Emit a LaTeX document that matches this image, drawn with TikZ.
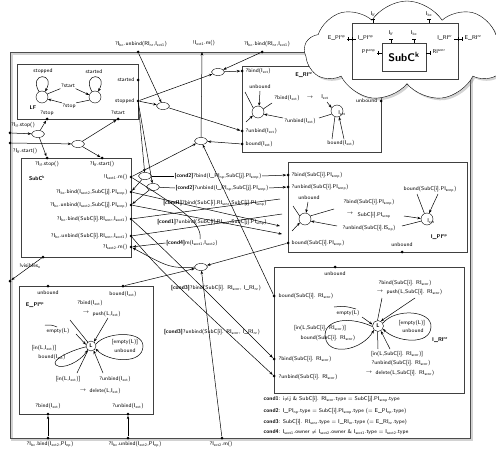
\documentclass[tikz,border=0pt]{standalone}
\usetikzlibrary{arrows.meta,shapes.geometric,shapes.symbols,shadows}
\newcommand\sbs[1]{\textsubscript{#1}}
\newcommand\sps[1]{\textsuperscript{#1}}
\newcommand\xIlf{I\sbs{lf}}
\newcommand\xIbc{I\sbs{bc}}
\newcommand\xIext{I\sbs{ext}}
\newcommand\xIexti{I\sbs{ext1}}
\newcommand\xIextii{I\sbs{ext2}}
\newcommand\xIsi{I\sbs{sext1}}
\newcommand\xIsii{I\sbs{sext2}}
\newcommand\xPIs{PI\sbs{scnp}}
\newcommand\xRIs{RI\sbs{scnr}}
\begin{document}
\begin{tikzpicture}[x=1pt,y=-1pt,
  every node/.style={font=\sffamily\fontsize{5.5}{6}\selectfont,inner sep=0.5pt},
  box/.style={draw=black!75,line width=0.6pt},
  pt/.style={circle,fill=black,inner sep=0,minimum size=3pt},
  ell/.style={ellipse,draw,fill=white,minimum width=13pt,minimum height=7pt,inner sep=0},
  st/.style={circle,draw,minimum size=12pt,inner sep=0},
  con/.style={line width=0.5pt},
  arr/.style={con,-{Stealth[length=3.5pt,width=2.6pt]}},
  bf/.style={font=\sffamily\bfseries\fontsize{5.5}{6}\selectfont}
]
\useasboundingbox (0,0) rectangle (496,452);
% outer frame
\draw[gray!35,line width=1.4pt] (12,54) rectangle (472,440);
\draw[black!70,line width=0.8pt] (10,52) rectangle (470,438);

% ---------- LF box
\draw[box] (17,64) rectangle (138,119);
\node at (43,71) {stopped};
\node at (94,72) {started};
\node[st] (s1) at (42,97) {};
\node[st] (s2) at (95,97) {};
\draw[arr] (s1.120) .. controls (28,72) and (56,72) .. (s1.60);
\draw[arr] (s2.120) .. controls (81,72) and (109,72) .. (s2.60);
\node (lst) at (68,86) {?start};
\draw[con] (s1.30) -- (lst.south west);
\draw[arr] (lst.south east) -- (s2.160);
\node (lsp) at (69,106) {?stop};
\draw[con] (s2.210) -- (lsp.north east);
\draw[arr] (lsp.north west) -- (s1.340);
\node[bf] at (33,108) {LF};
\node[pt] (lfstarted) at (138,80) {}; \node[anchor=east] at (135,80) {started};
\node[pt] (lfstopped) at (138,101) {}; \node[anchor=east] at (135,101) {stopped};
\node[pt] (lfstop) at (47,119) {}; \node at (47,113) {?stop};
\node[pt] (lfstart) at (118,119) {}; \node at (118,113) {?start};

% ---------- top frame ports
\node[pt] (t1) at (138,52) {}; \node at (141,44) {?\xIbc.unbind(RI\sbs{nr},\xIexti)};
\coordinate (t2) at (202,52); \node at (204,43) {!\xIexti.m()};
\node[pt] (t3) at (262,52) {}; \node at (267,44) {?\xIbc.bind(RI\sbs{nr},\xIexti)};

% ---------- E_RI box
\draw[box] (242,66) rectangle (381,152);
\node[pt] (eri1) at (242,71) {}; \node[anchor=west] at (245,71) {?bind(\xIext)};
\node[pt] (eri2) at (242,131) {}; \node[anchor=west] at (245,131) {?unbind(\xIext)};
\node[pt] (eri3) at (242,144) {}; \node[anchor=west] at (245,144) {bound(\xIext)};
\node[pt] (eri4) at (381,101) {}; \node[anchor=east] at (378,101) {unbound};
\node[bf] at (304,75) {E\_RI\sps{nr}};
\node at (260,87) {unbound};
\node[st] (ru) at (258,112) {};
\node[st] (rb) at (337,111) {};
\node at (342,113) {I\sbs{ext}};
\draw[arr] (260,91) -- (ru.80);
\draw[con] (245,92) -- (ru.140);
\draw[arr] (246,122) -- (ru.215);
\node at (287,98) {?bind(\xIext)};
\node at (310,98) {$\to$};
\node at (325,97) {\xIext};
\draw[con] (ru.30) -- (272,103);
\draw[arr] (327,102) -- (rb.150);
\node at (300,121) {?unbind(\xIext)};
\draw[con] (rb.210) -- (319,118);
\draw[arr] (283,118) -- (ru.340);
\node at (341,143) {bound(\xIext)};
\draw[con] (332,139) -- (rb.250);
\draw[arr] (344,139) -- (rb.290);

% ---------- I_PI box
\draw[box] (288,162) rectangle (467,252);
\node[pt] (ipi1) at (288,175) {}; \node[anchor=west] at (291,175) {?bind(SubC[i].\xPIs)};
\node[pt] (ipi2) at (288,187) {}; \node[anchor=west] at (291,187) {?unbind(SubC[i].\xPIs)};
\node[pt] (ipi3) at (288,243) {}; \node[anchor=west] at (291,243) {bound(SubC[i].\xPIs)};
\node[pt] (ipi4) at (402,252) {}; \node at (402,245) {unbound};
\node at (309,198) {unbound};
\node[st] (pu) at (305,219) {};
\draw[arr] (308,202) -- (pu.80);
\draw[con] (293,206) -- (pu.150);
\draw[arr] (292,231) -- (pu.215);
\node at (369,202) {?bind(SubC[i].\xPIs)};
\draw[con] (pu.30) -- (334,209);
\node at (350,214) {$\to$};
\node[anchor=west] at (357,215) {SubC[i].\xPIs};
\node[st] (pb) at (427,219) {};
\node at (431,221) {I\sbs{ext}};
\draw[arr] (404,216) -- (pb.175);
\node at (369,228) {?unbind(SubC[i].IS\sbs{np})};
\draw[con] (pb.200) -- (402,226);
\draw[arr] (337,226) -- (pu.340);
\node at (430,189) {bound(SubC[i].\xPIs)};
\draw[con] (417,194) -- (pb.115);
\draw[arr] (438,194) -- (pb.70);
\node[bf] at (439,237) {I\_PI\sps{np}};

% ---------- I_RI box
\draw[box] (274,267) rectangle (464,393);
\node[pt] (iri0) at (335,267) {}; \node at (335,274) {unbound};
\node[pt] (iri1) at (274,296) {}; \node[anchor=west] at (278,296) {bound(SubC[i]. \xRIs)};
\node[pt] (iri2) at (274,359) {}; \node[anchor=west] at (278,359) {?bind(SubC[i]. \xRIs)};
\node[pt] (iri3) at (274,376) {}; \node[anchor=west] at (278,377) {?unbind(SubC[i]. \xRIs)};
\node at (405,283) {?bind(SubC[i]. \xRIs)};
\node at (380,292) {$\to$};
\node[anchor=west] at (386,292) {push(L,SubC[i]. \xRIs)};
\node[st,minimum size=11pt] (L2) at (378,326) {\bfseries L};
\draw[con] (382,298) -- (L2.95);
\draw[arr] (415,298) -- (L2.60);
\node at (348,313) {empty(L)};
\draw[con] (334,307) .. controls (345,306) .. (356,309);
\draw[arr] (362,317) -- (L2.165);
\node at (320,328) {[in(L,SubC[i]. \xRIs)]};
\node at (328,338) {bound(SubC[i]. \xRIs)};
\draw[arr] (L2.185) .. controls (345,314) and (320,322) .. (326,340) .. controls (331,356) and (362,350) .. (L2.225);
\node at (412,323) {[empty(L)]};
\node at (413,331) {unbound};
\draw[arr] (L2.30) .. controls (395,308) and (432,310) .. (431,327) .. controls (430,346) and (396,342) .. (L2.330);
\node[bf] at (440,340) {I\_RI\sps{nr}};
\node at (397,354) {[in(L,SubC[i]. \xRIs)]};
\node at (401,363) {?unbind(SubC[i]. \xRIs)};
\node at (369,373) {$\to$};
\node[anchor=west] at (375,373) {delete(L,SubC[i]. \xRIs)};
\draw[con] (378,349) -- (L2.265);
\draw[arr] (390,349) -- (L2.300);

% conditions
\node[anchor=west] at (263,399) {\textbf{cond1}: i$\neq$j \& SubC[i]. \xRIs.type = SubC[j].\xPIs.type};
\node[anchor=west] at (263,411) {\textbf{cond2}: I\_PI\sbs{np}.type = SubC[i].\xPIs.type (= E\_PI\sbs{np}.type)};
\node[anchor=west] at (263,422) {\textbf{cond3}: SubC[i]. \xRIs.type = I\_RI\sbs{nr}.type (= E\_RI\sbs{nr}.type)};
\node[anchor=west] at (263,432) {\textbf{cond4}: \xIsi.owner $\neq$ \xIsii.owner \& \xIsi.type = \xIsii.type};

% ---------- E_PI box
\draw[box] (19,286) rectangle (153,414);
\node[pt] (epi1) at (48,286) {}; \node at (48,293) {unbound};
\node[pt] (epi2) at (123,286) {}; \node at (123,294) {bound(\xIext)};
\node[pt] (epi3) at (48,414) {}; \node at (48,406) {?bind(\xIext)};
\node[pt] (epi4) at (128,414) {}; \node at (128,406) {?unbind(\xIext)};
\node[bf] at (35,305) {E\_PI\sps{np}};
\node at (90,303) {?bind(\xIext)};
\node at (86,313) {$\to$};
\node[anchor=west] at (92,314) {push(L,\xIext)};
\node[st,minimum size=10pt] (L1) at (91,346) {\bfseries L};
\draw[con] (70,320) -- (L1.130);
\draw[arr] (108,318) -- (L1.55);
\node at (58,331) {empty(L)};
\draw[con] (45,325) .. controls (52,325) .. (57,327);
\draw[arr] (76,334) -- (L1.165);
\node at (44,348) {[in(L,\xIext)]};
\node at (52,357) {bound(\xIext)};
\draw[arr] (L1.190) .. controls (72,350) and (50,360) .. (56,365) .. controls (62,370) and (80,362) .. (L1.230);
\node at (125,342) {[empty(L)]};
\node at (125,351) {unbound};
\draw[arr] (L1.20) .. controls (105,332) and (143,330) .. (143,346) .. controls (143,365) and (108,362) .. (L1.330);
\node at (68,379) {[in(L,\xIext)]};
\node at (115,379) {?unbind(\xIext)};
\node at (83,391) {$\to$};
\node[anchor=west] at (89,391) {delete(L,\xIext)};
\draw[con] (77,373) -- (L1.235);
\draw[arr] (103,373) -- (L1.300);

% ---------- SubC box
\draw[box] (21,158) rectangle (131,257);
\node[pt] (scstop) at (47,158) {}; \node at (47,164) {?\xIlf.stop()};
\node[pt] (scstart) at (102,158) {}; \node at (102,164) {?\xIlf.start()};
\node[bf] at (37,178) {SubC\sps{k}};
\node[pt] (scm1) at (131,177) {}; \node[anchor=east] at (128,177) {!\xIsi.m()};
\node[pt] (scb1) at (131,192) {}; \node[anchor=east] at (128,192) {?\xIbc.bind(\xIsii,SubC[j].\xPIs)};
\node[pt] (scu1) at (131,205) {}; \node[anchor=east] at (128,205) {?\xIbc.unbind(\xIsii,SubC[j].\xPIs)};
\node[pt] (scb2) at (131,219) {}; \node[anchor=east] at (128,219) {?\xIbc.bind(SubC[i].\xRIs,\xIsi)};
\node[pt] (scu2) at (131,236) {}; \node[anchor=east] at (128,236) {?\xIbc.unbind(SubC[i].\xRIs,\xIsi)};
\node[pt] (scm2) at (131,247) {}; \node[anchor=east] at (128,247) {?\xIsii.m()};
\node[pt] (scvis) at (43,257) {};

% ---------- frame ports left / bottom
\node[pt] (fl1) at (10,133) {}; \node at (23,125) {?\xIlf.stop()};
\node[pt] (fl2) at (10,143) {}; \node at (25,151) {?\xIlf.start()};
\node[pt] (fl3) at (10,281) {}; \node at (30,266) {!visibles\sbs{n}};
\node[pt] (fb1) at (48,438) {}; \node at (50,444) {?\xIbc.bind(\xIextii,PI\sbs{np})};
\node[pt] (fb2) at (128,438) {}; \node at (135,444) {?\xIbc.unbind(\xIextii,PI\sbs{np})};
\node[pt] (fb3) at (222,438) {}; \node at (221,444) {?\xIextii.m()};

% ---------- ellipses
\node[ell] (e1) at (163,106) {};
\node[ell] (e2) at (218,72) {};
\node[ell] (e3) at (201,141) {};
\node[ell] (e4) at (38,134) {};
\node[ell] (e5) at (78,144) {};
\node[ell] (e6) at (145,176) {};
\node[ell] (e7) at (153,187) {};
\node[ell] (e8) at (201,267) {};

% ---------- connectors
\draw[arr] (fl1) -- (e4); \draw[arr] (e4) -- (lfstop); \draw[arr] (e4) -- (scstop);
\draw[arr] (fl2) -- (e5); \draw[arr] (e5) -- (lfstart); \draw[arr] (e5) -- (scstart);
\draw[arr] (t1) -- (e1); \draw[arr] (lfstopped) -- (e1); \draw[arr] (e1) -- (eri2);
\draw[arr] (t3) -- (e2); \draw[arr] (lfstopped) -- (e2); \draw[arr] (e2) -- (eri1);
\draw[arr] (eri3) -- (e3); \draw[arr] (scm1) -- (e3); \draw[arr] (iri1) -- (e3); \draw[arr] (e3) -- (t2);
\draw[arr] (lfstopped) -- (e6); \draw[arr] (lfstopped) -- (e7);
\draw[arr] (e6) -- (scb1); \draw[arr] (e7) -- (scu1);
\node (c2b) at (218,176) {\textbf{[cond2]}?bind(I\_PI\sbs{np},SubC[j].\xPIs)};
\node (c2u) at (222,188) {\textbf{[cond2]}?unbind(I\_PI\sbs{np},SubC[j].\xPIs)};
\draw[con] (e6) -- (c2b.west); \draw[arr] (c2b.east) -- (ipi1);
\draw[con] (e7) -- (c2u.west); \draw[arr] (c2u.east) -- (ipi2);
\node at (215,203) {\textbf{[cond1]}?bind(SubC[i].\xRIs,SubC[j].\xPIs)};
\node at (212,222) {\textbf{[cond1]}?unbind(SubC[i].\xRIs,SubC[j].\xPIs)};
\draw[arr] (scb1) -- (280,226); \draw[con] (scb2) -- (280,199);
\draw[arr] (scu1) -- (282,234); \draw[con] (scu2) -- (282,214);
\node (c4) at (192,243) {\textbf{[cond4]}m(\xIsi,\xIsii)};
\draw[arr] (c4.west) -- (scm2);
\draw[con] (scm1) .. controls (175,205) and (203,222) .. (200,239);
\node at (216,288) {\textbf{[cond3]}?bind(SubC[i]. \xRIs, I\_RI\sbs{nr})};
\node at (212,332) {\textbf{[cond3]}?unbind(SubC[i]. \xRIs, I\_RI\sbs{nr})};
\draw[arr] (scb2) .. controls (165,250) .. (iri2);
\draw[arr] (scu2) .. controls (160,270) .. (iri3);
\draw[arr] (ipi3) -- (e8); \draw[arr] (epi2) -- (e8); \draw[arr] (fb3) -- (e8);
\draw[arr] (e8) .. controls (170,268) .. (scm2);
\draw[arr] (fb1) -- (epi3); \draw[arr] (fb2) -- (epi4);
\draw[arr] (scvis) -- (fl3);

% ---------- cloud
\node[cloud,draw,fill=white,drop shadow={opacity=0.35},cloud puffs=9,cloud puff arc=115,aspect=1.8,minimum width=205pt,minimum height=100pt] (cl) at (407,51) {};
\draw[box] (352,23) rectangle (458,79);
\draw[box,fill=white] (382,43) rectangle (426,71);
\node[font=\sffamily\bfseries\fontsize{11}{12}\selectfont] at (404,57) {SubC\sps{k}};
% ports of the cloud component
\draw[con] (373,23) -- (373,19) (371,19) -- (375,19); \node at (373,14) {\xIlf};
\draw[con] (429,23) -- (429,19) (427,19) -- (431,19); \node at (429,14) {\xIbc};
\draw[con] (391,43) -- (391,39) (389,39) -- (393,39); \node at (391,33) {\xIlf};
\draw[con] (414,43) -- (414,39) (412,39) -- (416,39); \node at (414,33) {\xIbc};
\draw[con] (347,39) -- (356,39) (348,37) -- (348,41) (352,37) -- (352,41);
\node[anchor=east] at (346,38) {E\_PI\sps{np}}; \node[anchor=west] at (357,38) {I\_PI\sps{np}};
\draw[con] (454,39) -- (463,39) (458,37) -- (458,41) (462,37) -- (462,41);
\node[anchor=east] at (453,38) {I\_RI\sps{nr}}; \node[anchor=west] at (464,38) {E\_RI\sps{nr}};
\draw[con] (377,53) -- (382,53) (378,51) -- (378,55);
\node[anchor=east] at (376,52) {PI\sps{scnp}};
\draw[con] (426,53) -- (431,53) (430,51) -- (430,55);
\node[anchor=west] at (432,52) {RI\sps{scnr}};
\end{tikzpicture}
\end{document}
